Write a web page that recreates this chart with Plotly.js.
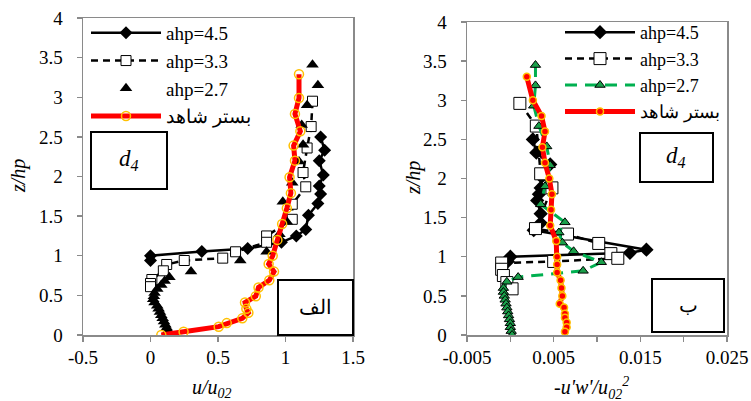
<!DOCTYPE html>
<html>
<head>
<meta charset="utf-8">
<script src="https://cdn.plot.ly/plotly-3.0.1.min.js"></script>
<style>html,body{margin:0;padding:0;background:#fff;}#chart{width:751px;height:401px;}</style>
</head>
<body>
<div id="chart"></div>
<script>
// ---------- DATA ----------
const seriesNames = ["ahp=4.5", "ahp=3.3", "ahp=2.7", "بستر شاهد"];

// Left chart: u/u02 vs z/hp
const leftZ45 = [2.50, 2.33, 2.20, 2.02, 1.88, 1.78, 1.66, 1.51, 1.33, 1.25, 1.17, 1.09, 1.055, 1.00, 0.94];
const leftU45 = [1.26, 1.29, 1.25, 1.28, 1.25, 1.26, 1.24, 1.17, 1.15, 1.08, 0.97, 0.72, 0.38, 0.00, 0.00];

const leftZ33 = [2.95, 2.63, 2.36, 2.05, 1.87, 1.65, 1.46, 1.25, 1.17, 1.05, 0.97, 0.94, 0.89, 0.81, 0.70, 0.65, 0.61];
const leftU33 = [1.20, 1.19, 1.16, 1.13, 1.15, 1.05, 1.05, 0.86, 0.86, 0.63, 0.535, 0.25, 0.12, 0.095, 0.01, 0.00, 0.00];

const leftZ27 = [3.41, 3.15, 2.90, 2.65, 2.40, 2.19, 1.92, 1.68, 1.43, 1.27, 1.05, 0.94, 0.80, 0.73, 0.68, 0.63, 0.58, 0.53, 0.49, 0.45, 0.41, 0.37, 0.33, 0.29, 0.25, 0.21, 0.17, 0.13, 0.09, 0.05, 0.01];
const leftU27 = [1.20, 1.24, 1.16, 1.12, 1.13, 1.10, 1.05, 0.98, 1.01, 0.955, 0.86, 0.665, 0.30, 0.14, 0.105, 0.08, 0.05, 0.03, 0.025, 0.02, 0.03, 0.05, 0.06, 0.07, 0.08, 0.09, 0.10, 0.11, 0.12, 0.13, 0.145];

const leftZRef = [3.29, 2.99, 2.79, 2.57, 2.39, 2.20, 1.99, 1.79, 1.60, 1.40, 1.20, 1.00, 0.895, 0.80, 0.69, 0.60, 0.49, 0.41, 0.33, 0.28, 0.21, 0.15, 0.105, 0.04, 0.00];
const leftURef = [1.10, 1.10, 1.07, 1.11, 1.06, 1.07, 1.03, 1.04, 1.01, 0.975, 0.94, 0.905, 0.875, 0.915, 0.88, 0.80, 0.78, 0.70, 0.71, 0.725, 0.68, 0.565, 0.505, 0.245, 0.08];

// Right chart: -u'w'/u02^2 vs z/hp
const rightZ45 = [2.50, 2.33, 2.18, 2.02, 1.88, 1.80, 1.72, 1.55, 1.43, 1.34, 1.09, 1.05, 1.00, 0.94];
const rightS45 = [0.0026, 0.0030, 0.0046, 0.0036, 0.0035, 0.0033, 0.0031, 0.0035, 0.0035, 0.0027, 0.0157, 0.0138, 0.0000, -0.0003];

const rightZ33 = [2.96, 2.67, 2.06, 1.88, 1.36, 1.29, 1.17, 1.04, 0.98, 0.94, 0.92, 0.84, 0.76, 0.67, 0.59];
const rightS33 = [0.0011, 0.0030, 0.0035, 0.0048, 0.0029, 0.0066, 0.0102, 0.0116, 0.0124, 0.0050, -0.0010, -0.0010, -0.0008, -0.0004, 0.0002];

const rightZ27 = [3.45, 3.19, 2.93, 2.67, 2.41, 2.17, 1.90, 1.67, 1.44, 1.31, 1.18, 1.07, 0.93, 0.82, 0.74, 0.68, 0.60, 0.55, 0.50, 0.45, 0.40, 0.35, 0.30, 0.25, 0.20, 0.15, 0.10, 0.05, 0.00];
const rightS27 = [0.0029, 0.0029, 0.0027, 0.0033, 0.0042, 0.0046, 0.0040, 0.0035, 0.0063, 0.0056, 0.0060, 0.0073, 0.0105, 0.0084, 0.0009, -0.0004, -0.0008, -0.0008, -0.0007, -0.0006, -0.0005, -0.0004, -0.0003, -0.0002, -0.0001, 0.0000, 0.0000, 0.0001, 0.0002];

const rightZRef = [3.30, 3.00, 2.80, 2.60, 2.40, 2.20, 2.00, 1.80, 1.60, 1.40, 1.20, 1.00, 0.90, 0.80, 0.70, 0.60, 0.50, 0.40, 0.35, 0.27, 0.22, 0.16, 0.10, 0.04];
const rightSRef = [0.0019, 0.0026, 0.0036, 0.0040, 0.0037, 0.0040, 0.0045, 0.0048, 0.0047, 0.0046, 0.0053, 0.0054, 0.0054, 0.0054, 0.0058, 0.0059, 0.0060, 0.0057, 0.0062, 0.0063, 0.0063, 0.0065, 0.0065, 0.0063];

const yTicks = [0, 0.5, 1, 1.5, 2, 2.5, 3, 3.5, 4];
const yTickText = ["0", "0.5", "1", "1.5", "2", "2.5", "3", "3.5", "4"];
const leftXTicks = [-0.5, 0, 0.5, 1, 1.5];
const leftXTickText = ["-0.5", "0", "0.5", "1", "1.5"];
const rightXTicks = [-0.005, 0, 0.005, 0.01, 0.015, 0.02, 0.025];
const rightXTickText = ["-0.005", "", "0.005", "", "0.015", "", "0.025"];

// ---------- LAYOUT HELPERS ----------
const W = 751, H = 401;
const fx = px => px / W;
const fy = py => 1 - py / H;
const SERIF = "Liberation Serif";
const GREEN = "#00B050";
const ORANGE = "#FFC000";

const traces = [
  // Left
  {x: leftU45, y: leftZ45, xaxis: "x", yaxis: "y", name: seriesNames[0], mode: "lines+markers",
   line: {color: "#000", width: 2.5}, marker: {symbol: "diamond", size: 10, color: "#000"}, legend: "legend"},
  {x: leftU33, y: leftZ33, xaxis: "x", yaxis: "y", name: seriesNames[1], mode: "lines+markers",
   line: {color: "#000", width: 2.5, dash: "7px,5px"}, marker: {symbol: "square", size: 10, color: "#fff", line: {color: "#000", width: 1}}, legend: "legend"},
  {x: leftU27, y: leftZ27, xaxis: "x", yaxis: "y", name: seriesNames[2], mode: "markers",
   marker: {symbol: "triangle-up", size: 11, color: "#000"}, legend: "legend"},
  {x: leftURef, y: leftZRef, xaxis: "x", yaxis: "y", name: seriesNames[3], mode: "lines+markers",
   line: {color: "#FF0000", width: 5}, marker: {symbol: "circle-open", size: 9, color: ORANGE, line: {width: 1.5}}, legend: "legend"},
  // Right
  {x: rightS45, y: rightZ45, xaxis: "x2", yaxis: "y2", name: seriesNames[0], mode: "lines+markers",
   line: {color: "#000", width: 2.5}, marker: {symbol: "diamond", size: 11, color: "#000"}, legend: "legend2"},
  {x: rightS33, y: rightZ33, xaxis: "x2", yaxis: "y2", name: seriesNames[1], mode: "lines+markers",
   line: {color: "#000", width: 2.5, dash: "7px,5px"}, marker: {symbol: "square", size: 12, color: "#fff", line: {color: "#000", width: 1}}, legend: "legend2"},
  {x: rightS27, y: rightZ27, xaxis: "x2", yaxis: "y2", name: seriesNames[2], mode: "lines+markers",
   line: {color: GREEN, width: 3, dash: "12px,8px"}, marker: {symbol: "triangle-up", size: 9, color: "#1A9F4A", line: {color: "#000", width: 1}}, legend: "legend2"},
  {x: rightSRef, y: rightZRef, xaxis: "x2", yaxis: "y2", name: seriesNames[3], mode: "lines+markers",
   line: {color: "#FF0000", width: 5}, marker: {symbol: "circle", size: 7, color: "#FF0000", line: {color: ORANGE, width: 1.5}}, legend: "legend2"}
];

const axisCommon = {
  showline: true, linecolor: "#8a8a8a", linewidth: 1.5, mirror: true,
  ticks: "outside", tickcolor: "#8a8a8a", ticklen: 5, tickwidth: 1.3,
  showgrid: false, zeroline: false,
  tickfont: {family: SERIF, size: 19, color: "#000"}
};

function ann(x, y, text, size, extra) {
  return Object.assign({xref: "paper", yref: "paper", x: fx(x), y: fy(y), xanchor: "center", yanchor: "middle",
    text: text, showarrow: false, font: {family: SERIF, size: size, color: "#000"}}, extra || {});
}

const layout = {
  width: W, height: H,
  margin: {l: 0, r: 0, t: 0, b: 0},
  paper_bgcolor: "#fff", plot_bgcolor: "#fff",
  font: {family: SERIF, color: "#000"},
  showlegend: true,
  xaxis: Object.assign({}, axisCommon, {domain: [fx(83), fx(353)], range: [-0.5, 1.5], tickmode: "array", tickvals: leftXTicks, ticktext: leftXTickText, anchor: "y", ticklabelstandoff: 0}),
  yaxis: Object.assign({}, axisCommon, {domain: [fy(335), fy(18)], range: [0, 4], tickmode: "array", tickvals: yTicks, ticktext: yTickText, anchor: "x", ticklabelstandoff: 10}),
  xaxis2: Object.assign({}, axisCommon, {domain: [fx(467), fx(727)], range: [-0.005, 0.025], tickmode: "array", tickvals: rightXTicks, ticktext: rightXTickText, anchor: "y2", ticklabelstandoff: 0}),
  yaxis2: Object.assign({}, axisCommon, {domain: [fy(335), fy(22)], range: [0, 4], tickmode: "array", tickvals: yTicks, ticktext: yTickText, anchor: "x2", ticklabelstandoff: 10}),
  legend: {x: fx(86), y: fy(14), xanchor: "left", yanchor: "top", bgcolor: "rgba(0,0,0,0)",
           font: {family: SERIF, size: 19, color: "#000"}, itemwidth: 70, tracegroupgap: 0},
  legend2: {x: fx(560), y: fy(14), xanchor: "left", yanchor: "top", bgcolor: "rgba(0,0,0,0)",
            font: {family: SERIF, size: 18, color: "#000"}, itemwidth: 70, tracegroupgap: 0},
  shapes: [
    {type: "rect", xref: "paper", yref: "paper", x0: fx(91), x1: fx(167), y0: fy(189), y1: fy(132), line: {color: "#000", width: 2}, fillcolor: "#fff"},
    {type: "rect", xref: "paper", yref: "paper", x0: fx(640), x1: fx(713), y0: fy(182), y1: fy(133), line: {color: "#000", width: 2}, fillcolor: "#fff"},
    {type: "rect", xref: "paper", yref: "paper", x0: fx(278), x1: fx(353), y0: fy(335), y1: fy(280), line: {color: "#000", width: 2}, fillcolor: "#fff"},
    {type: "rect", xref: "paper", yref: "paper", x0: fx(652), x1: fx(724), y0: fy(332), y1: fy(279), line: {color: "#000", width: 2}, fillcolor: "#fff"}
  ],
  annotations: [
    ann(129, 160, "<i>d<sub>4</sub></i>", 23),
    ann(676, 157, "<i>d<sub>4</sub></i>", 23),
    ann(315, 307, "الف", 20),
    ann(688, 305, "ب", 20),
    ann(18, 176, "<i>z/hp</i>", 20, {textangle: -90}),
    ann(413, 178, "<i>z/hp</i>", 20, {textangle: -90}),
    ann(212, 388, "<i>u/u<sub>02</sub></i>", 20),
    ann(591, 388, "<i>-u'w'/u<sub>02</sub><sup>2</sup></i>", 20)
  ]
};

Plotly.newPlot("chart", traces, layout, {staticPlot: true, displayModeBar: false});
</script>
</body>
</html>
